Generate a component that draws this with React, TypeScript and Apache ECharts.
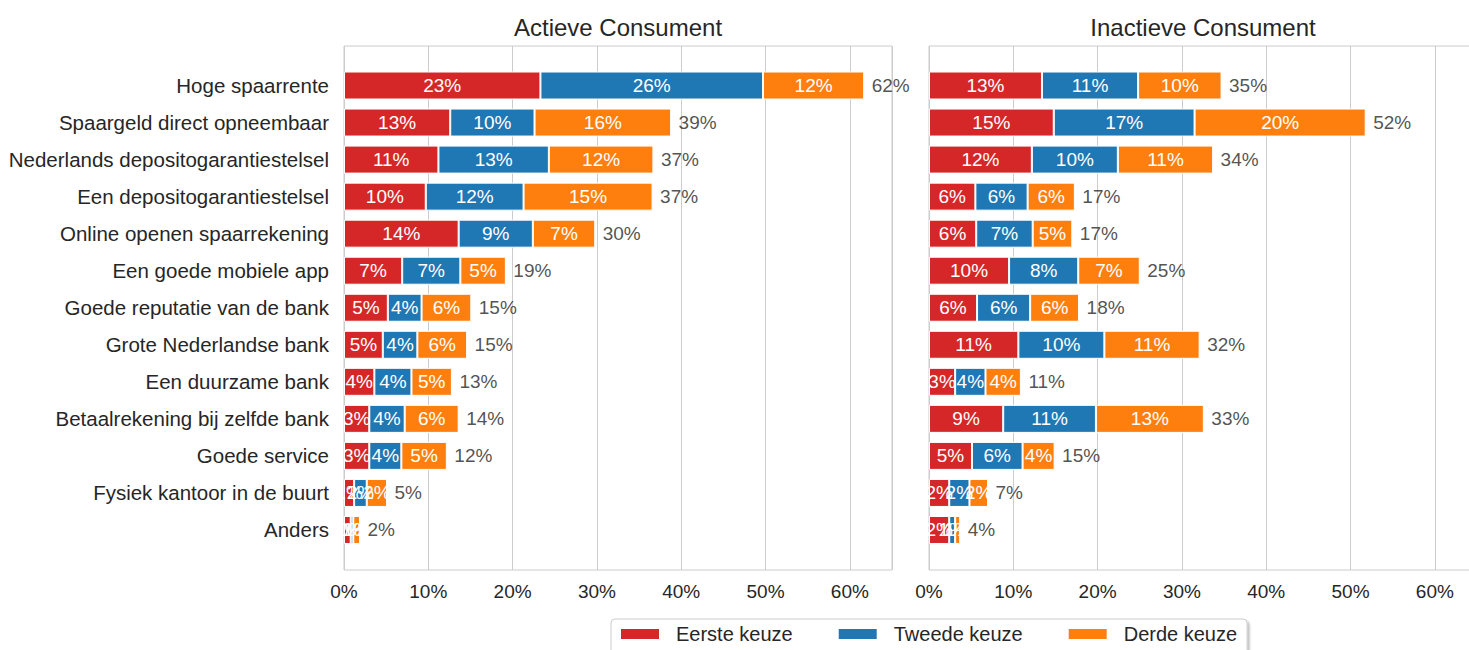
import React, { useEffect, useRef } from "react";
import * as echarts from "echarts";

const categories = [
  "Hoge spaarrente",
  "Spaargeld direct opneembaar",
  "Nederlands depositogarantiestelsel",
  "Een depositogarantiestelsel",
  "Online openen spaarrekening",
  "Een goede mobiele app",
  "Goede reputatie van de bank",
  "Grote Nederlandse bank",
  "Een duurzame bank",
  "Betaalrekening bij zelfde bank",
  "Goede service",
  "Fysiek kantoor in de buurt",
  "Anders",
];

const seriesNames = ["Eerste keuze", "Tweede keuze", "Derde keuze"];
const panelTitles = ["Actieve Consument", "Inactieve Consument"];

// Actieve Consument (percentages)
const actiefEerste = [23.3, 12.6, 11.2, 9.7, 13.6, 6.9, 5.2, 4.6, 3.6, 3.0, 3.0, 1.2, 0.8];
const actiefTweede = [26.4, 10.0, 13.1, 11.6, 8.8, 6.9, 4.0, 4.1, 4.4, 4.2, 3.8, 1.5, 0.3];
const actiefDerde = [12.0, 16.2, 12.4, 15.3, 7.4, 5.4, 5.9, 5.9, 4.8, 6.4, 5.4, 2.4, 0.8];

// Inactieve Consument (percentages)
const inactiefEerste = [13.4, 14.8, 12.2, 5.5, 5.6, 9.5, 5.7, 10.6, 3.1, 8.8, 5.1, 2.4, 2.4];
const inactiefTweede = [11.4, 16.7, 10.2, 6.2, 6.7, 8.2, 6.3, 10.2, 3.6, 11.0, 6.0, 2.4, 0.7];
const inactiefDerde = [9.9, 20.3, 11.3, 5.6, 4.7, 7.3, 5.8, 11.3, 4.2, 12.8, 3.8, 2.2, 0.6];

const xTicks = [0, 10, 20, 30, 40, 50, 60];

const COLORS = ["#d62728", "#1f77b4", "#ff7f0e"];
const FONT = "'Liberation Sans', Arial, sans-serif";
const TEXT = "#262626";
const GRIDC = "#cccccc";

export default function App() {
  const ref = useRef<HTMLDivElement>(null);

  useEffect(() => {
    if (!ref.current) return;
    const chart = echarts.init(ref.current, null, { renderer: "svg" });

    const panels = [
      [actiefEerste, actiefTweede, actiefDerde],
      [inactiefEerste, inactiefTweede, inactiefDerde],
    ];
    const lefts = [344, 929];
    const W = 548;

    const grid: any[] = [];
    const xAxis: any[] = [];
    const yAxis: any[] = [];
    const series: any[] = [];

    panels.forEach((data, p) => {
      const frameIdx = p * 2;
      const barIdx = p * 2 + 1;
      grid.push({
        left: lefts[p],
        top: 46,
        width: W,
        height: 524,
        show: true,
        borderColor: GRIDC,
        borderWidth: 1,
        containLabel: false,
      });
      grid.push({
        left: lefts[p],
        top: 67,
        width: W,
        height: 481.5,
        containLabel: false,
      });
      xAxis.push({
        type: "value",
        gridIndex: frameIdx,
        min: 0,
        max: 65,
        interval: 10,
        axisLine: { show: false },
        axisTick: { show: false },
        splitLine: { show: true, lineStyle: { color: GRIDC, width: 1 } },
        axisLabel: {
          margin: 12,
          color: TEXT,
          fontSize: 19,
          fontFamily: FONT,
          formatter: (v: number) => (xTicks.includes(v) ? `${v}%` : ""),
        },
      });
      xAxis.push({
        type: "value",
        gridIndex: barIdx,
        min: 0,
        max: 65,
        show: false,
        splitLine: { show: false },
      });
      yAxis.push({
        type: "value",
        gridIndex: frameIdx,
        show: false,
        splitLine: { show: false },
      });
      yAxis.push({
        type: "category",
        gridIndex: barIdx,
        data: categories,
        inverse: true,
        axisLine: { show: false },
        axisTick: { show: false },
        splitLine: { show: false },
        axisLabel: {
          show: p === 0,
          margin: 15,
          color: TEXT,
          fontSize: 20.5,
          fontFamily: FONT,
        },
      });

      data.forEach((vals, s) => {
        series.push({
          type: "bar",
          name: seriesNames[s],
          xAxisIndex: barIdx,
          yAxisIndex: barIdx,
          stack: `panel${p}`,
          barWidth: 28,
          data: vals,
          itemStyle: { color: COLORS[s], borderColor: "#ffffff", borderWidth: 1 },
          label: {
            show: true,
            position: "inside",
            color: "#ffffff",
            fontSize: 19,
            fontFamily: FONT,
            formatter: (prm: any) => `${Math.round(prm.value)}%`,
          },
          emphasis: { disabled: true },
        });
      });

      const totals = data[0].map((v, i) => v + data[1][i] + data[2][i]);
      series.push({
        type: "scatter",
        name: `totaal${p}`,
        xAxisIndex: barIdx,
        yAxisIndex: barIdx,
        symbolSize: 1,
        itemStyle: { color: "rgba(0,0,0,0)" },
        data: totals.map((t, i) => [t, i]),
        label: {
          show: true,
          position: "right",
          distance: 7,
          color: TEXT,
          fontSize: 19,
          fontFamily: FONT,
          formatter: (prm: any) => `${Math.round(prm.value[0])}%`,
        },
        emphasis: { disabled: true },
        z: 5,
      });
    });

    chart.setOption({
      animation: false,
      backgroundColor: "#ffffff",
      title: panelTitles.map((t, p) => ({
        text: t,
        left: lefts[p] + W / 2,
        top: 15,
        padding: 0,
        textAlign: "center",
        textStyle: { color: TEXT, fontSize: 24, fontWeight: "normal", fontFamily: FONT },
      })),
      legend: {
        data: seriesNames,
        left: 611,
        top: 619,
        padding: [5, 10, 12, 8],
        itemWidth: 40,
        itemHeight: 12,
        itemGap: 44,
        icon: "rect",
        borderColor: GRIDC,
        borderWidth: 1,
        borderRadius: 4,
        backgroundColor: "#ffffff",
        shadowColor: "rgba(0,0,0,0.25)",
        shadowBlur: 2,
        shadowOffsetX: 2,
        shadowOffsetY: 2,
        selectedMode: false,
        textStyle: { color: TEXT, fontSize: 20, fontFamily: FONT, padding: [0, 0, 0, 11] },
      },
      grid,
      xAxis,
      yAxis,
      series,
    });

    return () => chart.dispose();
  }, []);

  return (
    <div
      style={{
        position: "absolute",
        left: 0,
        top: 0,
        width: 1469,
        height: 650,
        overflow: "hidden",
      }}
    >
      <div ref={ref} style={{ width: 1490, height: 650 }} />
    </div>
  );
}
